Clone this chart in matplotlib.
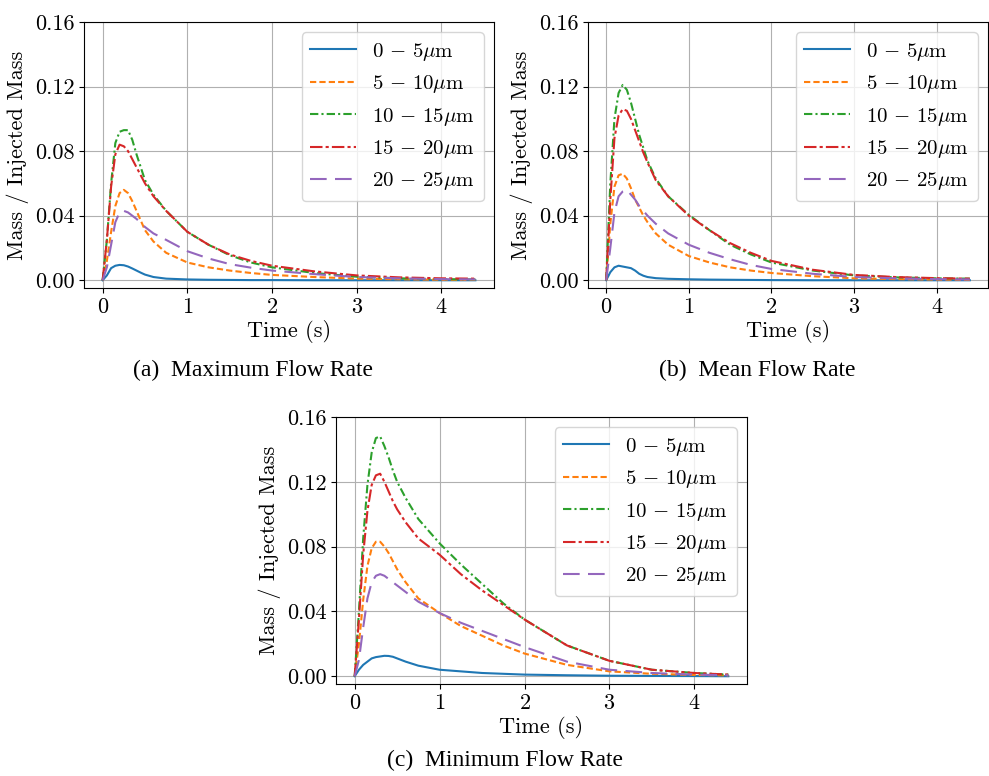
import matplotlib
matplotlib.use("Agg")
import matplotlib.pyplot as plt

plt.rcParams.update({
    "font.family": "serif",
    "font.serif": ["cmr10"],
    "mathtext.fontset": "cm",
    "axes.formatter.use_mathtext": True,
    "axes.unicode_minus": False,
})

# size classes
labels = [r"$0\,-\,5\mu$m", r"$5\,-\,10\mu$m", r"$10\,-\,15\mu$m",
          r"$15\,-\,20\mu$m", r"$20\,-\,25\mu$m"]

# time samples (s)
t = [0, 0.05, 0.1, 0.15, 0.2, 0.25, 0.3, 0.35, 0.4, 0.45, 0.5, 0.6, 0.75, 1.0,
     1.25, 1.5, 1.75, 2.0, 2.5, 3.0, 3.5, 4.0, 4.4]

# (a) maximum flow rate
max_blue = [0, 0.003, 0.0075, 0.009, 0.0095, 0.0093, 0.0085, 0.0073, 0.006, 0.0047, 0.0035, 0.002, 0.001, 0.0005, 0.0003, 0.0002, 0.0001, 0.0001, 0, 0, 0, 0, 0]
max_orange = [0, 0.012, 0.03, 0.046, 0.054, 0.056, 0.054, 0.049, 0.043, 0.037, 0.031, 0.024, 0.017, 0.011, 0.008, 0.006, 0.0045, 0.0033, 0.002, 0.001, 0.0006, 0.0003, 0.0002]
max_green = [0, 0.025, 0.06, 0.085, 0.092, 0.093, 0.093, 0.087, 0.078, 0.07, 0.062, 0.053, 0.043, 0.03, 0.022, 0.0155, 0.011, 0.008, 0.0045, 0.0022, 0.0012, 0.0007, 0.0005]
max_red = [0, 0.025, 0.058, 0.078, 0.084, 0.083, 0.08, 0.075, 0.07, 0.065, 0.06, 0.052, 0.043, 0.03, 0.022, 0.016, 0.012, 0.009, 0.0055, 0.003, 0.0018, 0.0012, 0.001]
max_purple = [0, 0.008, 0.022, 0.036, 0.042, 0.043, 0.042, 0.04, 0.038, 0.0355, 0.033, 0.029, 0.025, 0.018, 0.0135, 0.01, 0.0078, 0.006, 0.0038, 0.002, 0.0012, 0.0007, 0.0005]

# (b) mean flow rate
mean_blue = [0, 0.005, 0.008, 0.009, 0.0085, 0.008, 0.0075, 0.006, 0.004, 0.0028, 0.002, 0.0013, 0.0009, 0.0006, 0.0004, 0.0003, 0.0002, 0.0001, 0, 0, 0, 0, 0]
mean_orange = [0, 0.035, 0.058, 0.065, 0.066, 0.063, 0.057, 0.05, 0.045, 0.04, 0.036, 0.029, 0.022, 0.015, 0.011, 0.008, 0.006, 0.0045, 0.0025, 0.0012, 0.0007, 0.0004, 0.0003]
mean_green = [0, 0.06, 0.1, 0.116, 0.121, 0.118, 0.11, 0.1, 0.09, 0.082, 0.074, 0.063, 0.052, 0.0405, 0.031, 0.022, 0.016, 0.011, 0.006, 0.003, 0.0018, 0.0012, 0.001]
mean_red = [0, 0.05, 0.088, 0.102, 0.106, 0.105, 0.1, 0.093, 0.086, 0.079, 0.073, 0.062, 0.052, 0.04, 0.031, 0.023, 0.017, 0.012, 0.0065, 0.0033, 0.002, 0.0013, 0.001]
mean_purple = [0, 0.02, 0.042, 0.052, 0.055, 0.056, 0.053, 0.05, 0.046, 0.043, 0.04, 0.035, 0.029, 0.022, 0.017, 0.013, 0.0095, 0.007, 0.004, 0.002, 0.0012, 0.0007, 0.0005]

# (c) minimum flow rate
min_blue = [0, 0.004, 0.007, 0.009, 0.011, 0.0118, 0.0122, 0.0126, 0.0125, 0.012, 0.011, 0.009, 0.0065, 0.004, 0.003, 0.002, 0.0015, 0.001, 0.0006, 0.0003, 0.0002, 0.0001, 0]
min_orange = [0, 0.02, 0.047, 0.068, 0.079, 0.083, 0.083, 0.08, 0.076, 0.071, 0.066, 0.058, 0.048, 0.039, 0.031, 0.025, 0.019, 0.014, 0.007, 0.003, 0.0015, 0.0008, 0.0005]
min_green = [0, 0.04, 0.085, 0.118, 0.138, 0.147, 0.148, 0.142, 0.135, 0.127, 0.12, 0.11, 0.097, 0.082, 0.069, 0.057, 0.045, 0.035, 0.019, 0.0095, 0.004, 0.002, 0.001]
min_red = [0, 0.035, 0.075, 0.102, 0.118, 0.124, 0.125, 0.12, 0.114, 0.108, 0.103, 0.095, 0.085, 0.075, 0.063, 0.053, 0.044, 0.035, 0.019, 0.0095, 0.004, 0.002, 0.001]
min_purple = [0, 0.01, 0.03, 0.048, 0.058, 0.062, 0.063, 0.062, 0.06, 0.058, 0.056, 0.052, 0.046, 0.039, 0.033, 0.028, 0.023, 0.018, 0.009, 0.004, 0.002, 0.001, 0.0006]

panels = [
    ("(a)  Maximum Flow Rate", [max_blue, max_orange, max_green, max_red, max_purple]),
    ("(b)  Mean Flow Rate", [mean_blue, mean_orange, mean_green, mean_red, mean_purple]),
    ("(c)  Minimum Flow Rate", [min_blue, min_orange, min_green, min_red, min_purple]),
]

colors = ["#1f77b4", "#ff7f0e", "#2ca02c", "#d62728", "#9467bd"]
styles = ["-", (0, (3, 1.5)), (0, (4, 1.5, 1, 1.5)), (0, (6, 1.5, 1.5, 1.5)), (0, (8, 4))]

W, H = 989, 776
# axes boxes in pixels: left, top, right, bottom
boxes = [(84, 22, 494, 288), (588, 22, 988, 288), (336, 417, 747, 684)]
captions = [(253, 370), (757, 370), (505, 760)]

fig = plt.figure(figsize=(W / 100, H / 100), dpi=100)

for (title, series), (l, tp, r, b), (cx, cy) in zip(panels, boxes, captions):
    ax = fig.add_axes([l / W, 1 - b / H, (r - l) / W, (b - tp) / H])
    for y, lab, c, ls in zip(series, labels, colors, styles):
        ax.plot(t, y, color=c, linestyle=ls, linewidth=1.5, label=lab)
    ax.set_ylim(-0.0048, 0.16)
    ax.set_yticks([0, 0.04, 0.08, 0.12, 0.16])
    ax.set_yticklabels(["0.00", "0.04", "0.08", "0.12", "0.16"])
    ax.set_xticks([0, 1, 2, 3, 4])
    ax.tick_params(labelsize=16)
    ax.grid(True)
    ax.set_xlabel("Time (s)", fontsize=16, labelpad=2)
    ax.set_ylabel("Mass / Injected Mass", fontsize=16, labelpad=4)
    ax.legend(loc="upper right", fontsize=15, handlelength=2.2)
    fig.text(cx / W, 1 - cy / H, title, ha="center", va="center",
             family="Liberation Serif", fontsize=17)

fig.savefig("out.png", dpi=100)
